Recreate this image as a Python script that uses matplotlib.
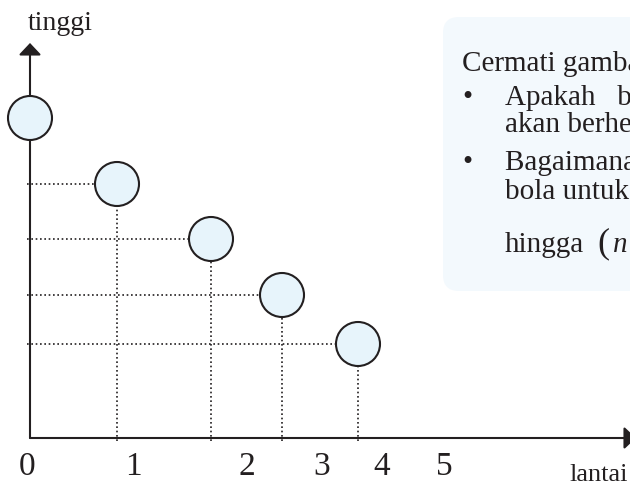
import matplotlib.pyplot as plt
from matplotlib.patches import Circle, FancyBboxPatch

plt.rcParams["font.family"] = ["Liberation Serif", "DejaVu Serif"]

# --- data: bola memantul turun lantai demi lantai ---
jarak_bola = [0, 87, 181, 252, 328]       # posisi mendatar tiap pantulan
tinggi_bola = [320, 254, 199, 143, 94]    # tinggi tiap pantulan
label_lantai = ["0", "1", "2", "3", "4", "5"]
posisi_label = [-3, 103, 217, 292, 352, 414]

judul = "Cermati gambar di samping!"
butir_1 = ["Apakah   bola tersebut", "akan berhenti memantul?"]
butir_2 = ["Bagaimana menentukan tinggi", "bola untuk pantulan pertama"]

ink = "#231f20"
isi_bola = "#e7f4fb"
isi_kotak = "#f3f9fd"

fig = plt.figure(figsize=(6.3, 4.87), dpi=100)
ax = fig.add_axes([0, 0, 1, 1])
ax.set_xlim(-30, 600)
ax.set_ylim(-49, 438)
ax.axis("off")

# kotak keterangan
ax.add_patch(FancyBboxPatch((413, 147), 320, 274,
                            boxstyle="round,pad=0,rounding_size=16",
                            fc=isi_kotak, ec="none", zorder=0))

# sumbu
arrow = dict(arrowstyle="-|>,head_length=0.36,head_width=0.34",
             lw=1.5, color=ink, mutation_scale=20, shrinkA=0, shrinkB=0)
ax.annotate("", xy=(0, 395), xytext=(0, 0), arrowprops=arrow, zorder=3,
            annotation_clip=False)
ax.annotate("", xy=(606, 0), xytext=(0, 0), arrowprops=arrow, zorder=3,
            annotation_clip=False)

# garis bantu titik-titik
dots = (0, (1, 1.6))
for x, y in zip(jarak_bola[1:], tinggi_bola[1:]):
    ax.plot([-3, x], [y, y], ls=dots, lw=1.2, color=ink, zorder=2)
    ax.plot([x, x], [-3, y], ls=dots, lw=1.2, color=ink, zorder=2)

# bola
for x, y in zip(jarak_bola, tinggi_bola):
    ax.add_patch(Circle((x, y), 22, fc=isi_bola, ec=ink, lw=1.5, zorder=4))

# label sumbu
for lbl, x in zip(label_lantai, posisi_label):
    ax.text(x, -37, lbl, fontsize=24, color=ink, ha="center", va="baseline")
ax.text(30, 408, "tinggi", fontsize=20, color=ink, ha="center", va="baseline")
ax.text(569, -43, "lantai", fontsize=19, color=ink, ha="center", va="baseline")

# teks dalam kotak
fs = 21
ax.text(432, 367, judul, fontsize=fs, color=ink, va="baseline")
ax.text(437, 333, "\u2022", fontsize=fs, color=ink, ha="center", va="baseline")
ax.text(475, 333, butir_1[0], fontsize=fs, color=ink, va="baseline")
ax.text(475, 306, butir_1[1], fontsize=fs, color=ink, va="baseline")
ax.text(437, 268, "\u2022", fontsize=fs, color=ink, ha="center", va="baseline")
ax.text(475, 268, butir_2[0], fontsize=fs, color=ink, va="baseline")
ax.text(475, 239, butir_2[1], fontsize=fs, color=ink, va="baseline")
ax.text(475, 186, "hingga", fontsize=fs, color=ink, va="baseline")
ax.text(567, 186, "(", fontsize=26, color=ink, va="baseline")
ax.text(583, 186, "n \u2192 \u221e)?", fontsize=fs, color=ink, va="baseline",
        style="italic")

fig.savefig("out.png", dpi=100)
